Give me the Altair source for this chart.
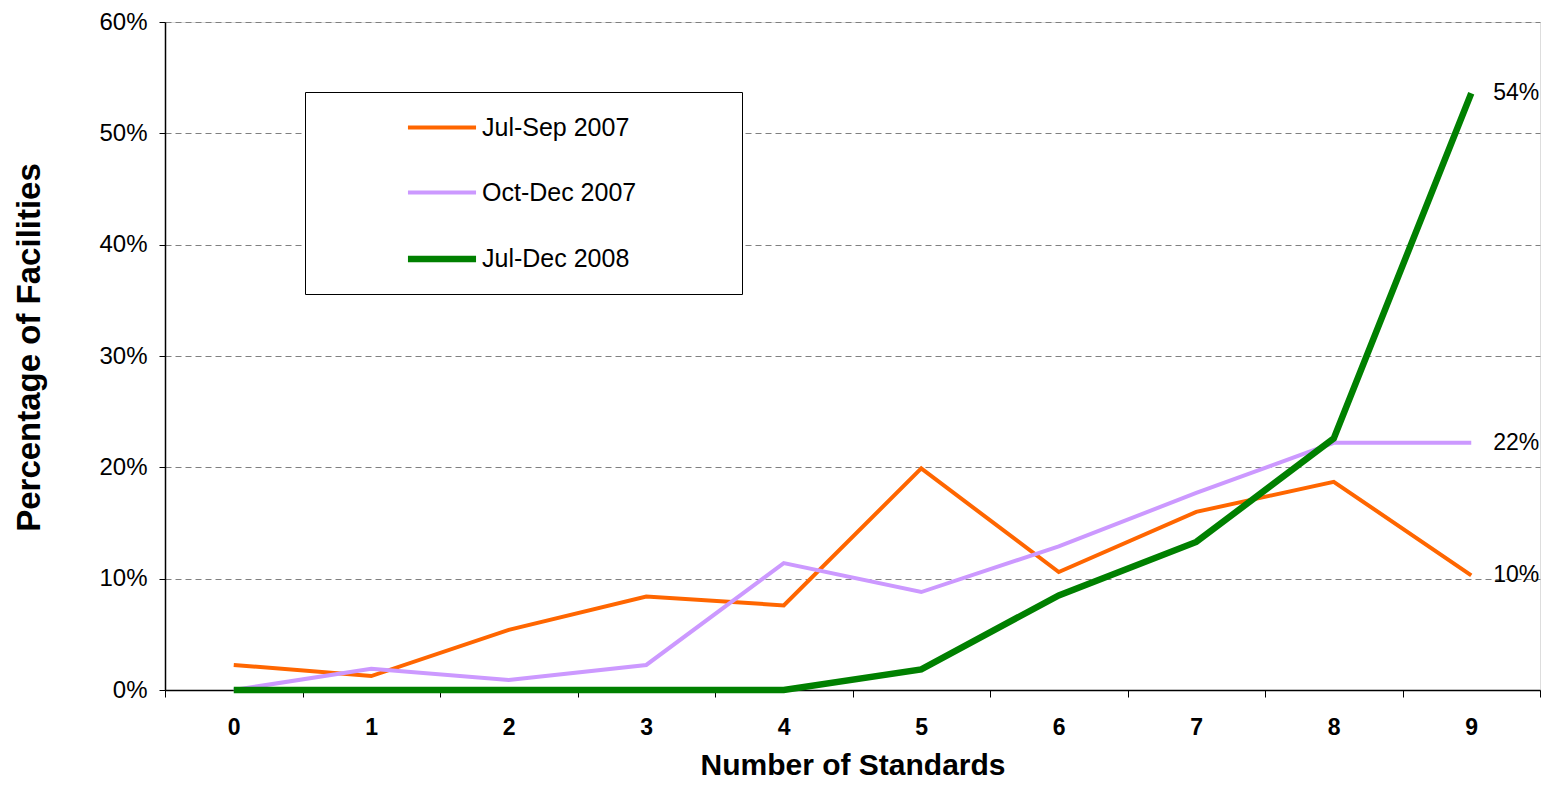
import altair as alt
import pandas as pd

standards = [0, 1, 2, 3, 4, 5, 6, 7, 8, 9]
series_names = ["Jul-Sep 2007", "Oct-Dec 2007", "Jul-Dec 2008"]
jul_sep_2007 = [0.0225, 0.0125, 0.054, 0.084, 0.076, 0.199, 0.106, 0.160, 0.187, 0.103]
oct_dec_2007 = [0.0, 0.019, 0.009, 0.0225, 0.114, 0.088, 0.129, 0.177, 0.222, 0.222]
jul_dec_2008 = [0.0, 0.0, 0.0, 0.0, 0.0, 0.0185, 0.085, 0.133, 0.226, 0.536]
colors = ["#FF6600", "#CC99FF", "#008000"]
widths = [4, 4, 6.5]

rows = []
for name, vals in zip(series_names, [jul_sep_2007, oct_dec_2007, jul_dec_2008]):
    for n, v in zip(standards, vals):
        rows.append({"n": n, "series": name, "pct": v})
df = pd.DataFrame(rows)

FONT = "Liberation Sans"
FILL = "\u00a0" * 12 + "\u200b"

x_enc = alt.X(
    "n:O",
    bandPosition=0.5,
    scale=alt.Scale(type="band", paddingInner=0, paddingOuter=0),
    axis=alt.Axis(
        title="Number of Standards",
        labelAngle=0,
        tickBand="extent",
        tickSize=7,
        tickColor="#000000",
        domainColor="#000000",
        domainWidth=1.5,
        labelFont=FONT,
        labelFontSize=23,
        labelFontWeight="bold",
        labelColor="#000000",
        labelPadding=19,
        titleFont=FONT,
        titleFontSize=30,
        titleFontWeight="bold",
        titleColor="#000000",
        titlePadding=11,
        grid=False,
    ),
)
y_enc = alt.Y(
    "pct:Q",
    scale=alt.Scale(domain=[0, 0.6], nice=False),
    axis=alt.Axis(
        title="Percentage of Facilities",
        format=".0%",
        values=[0, 0.1, 0.2, 0.3, 0.4, 0.5, 0.6],
        tickSize=6,
        tickColor="#000000",
        domainColor="#000000",
        domainWidth=1.5,
        labelFont=FONT,
        labelFontSize=24,
        labelColor="#000000",
        labelPadding=12,
        titleFont=FONT,
        titleFontSize=33,
        titleFontWeight="bold",
        titleColor="#000000",
        titlePadding=52,
        titleY=325,
        grid=True,
        gridColor="#808080",
        gridDash=[6, 4],
        gridWidth=1,
    ),
)

legend = alt.Legend(
    title=None,
    orient="none",
    legendX=140,
    legendY=70,
    direction="vertical",
    symbolType="M-3,0H3",
    symbolSize=515,
    symbolOffset=100,
    labelOffset=25,
    labelFont=FONT,
    labelFontSize=25,
    labelColor="#000000",
    labelExpr="datum.label + '" + FILL + "'",
    labelLimit=500,
    rowPadding=38,
    padding=22,
    strokeColor="#000000",
    fillColor="#FFFFFF",
)

lines = alt.Chart(df).mark_line(strokeJoin="miter").encode(
    x=x_enc,
    y=y_enc,
    color=alt.Color("series:N", scale=alt.Scale(domain=series_names, range=colors), legend=legend),
    strokeWidth=alt.StrokeWidth(
        "series:N",
        scale=alt.Scale(type="ordinal", domain=series_names, range=widths),
        legend=legend,
    ),
)

labels = alt.Chart(df).transform_filter(alt.datum.n == 9).mark_text(
    align="left", baseline="middle", dx=22, font=FONT, fontSize=23, color="#000000"
).encode(
    x=alt.X("n:O", bandPosition=0.5),
    y=alt.Y("pct:Q"),
    text=alt.Text("pct:Q", format=".0%"),
)

chart = alt.layer(lines, labels).properties(
    width=1375,
    height=668,
    autosize=alt.AutoSizeParams(type="none"),
    padding={"left": 157, "top": 14, "right": 5, "bottom": 90},
).configure_view(stroke="#808080", strokeWidth=1.5).configure(background="#FFFFFF")

chart.save("out.html", embed_options={"renderer": "svg", "actions": False})
